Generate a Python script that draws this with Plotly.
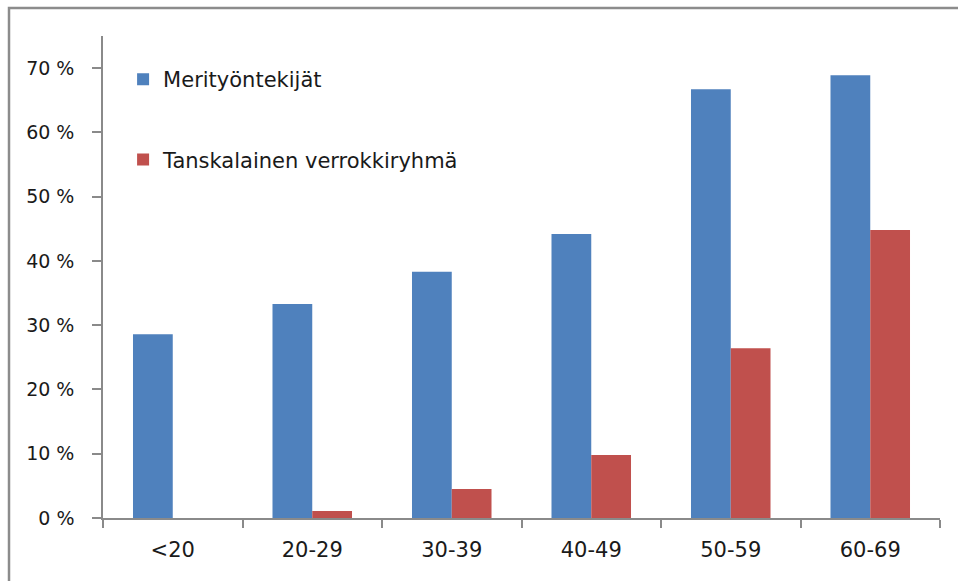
import plotly.graph_objects as go

categories = ["<20", "20-29", "30-39", "40-49", "50-59", "60-69"]
meri = [0.286, 0.333, 0.383, 0.442, 0.667, 0.689]
tansk = [None, 0.011, 0.045, 0.098, 0.264, 0.448]
series_names = ["Merityöntekijät", "Tanskalainen verrokkiryhmä"]
ytick_vals = [0, 0.1, 0.2, 0.3, 0.4, 0.5, 0.6, 0.7]
ytick_text = ["0 %", "10 %", "20 %", "30 %", "40 %", "50 %", "60 %", "70 %"]

FONT = "DejaVu Sans"
fig = go.Figure()
fig.add_trace(go.Bar(x=categories, y=meri, name=series_names[0], legendgroup="a",
                     marker=dict(color="#4F81BD", line=dict(width=0))))
fig.add_trace(go.Bar(x=categories, y=tansk, name=series_names[1], legendgroup="b",
                     marker=dict(color="#C0504D", line=dict(width=0))))

fig.update_layout(
    width=958, height=581,
    margin=dict(l=103, r=18, t=36, b=63),
    paper_bgcolor="white", plot_bgcolor="white",
    barmode="group", bargap=0.43, bargroupgap=0,
    font=dict(family=FONT, size=19, color="#1a1a1a"),
    legend=dict(x=0.024, y=0.952, xanchor="left", yanchor="top",
                bgcolor="rgba(0,0,0,0)", tracegroupgap=50,
                itemwidth=30, font=dict(family=FONT, size=21, color="#1a1a1a")),
    xaxis=dict(type="category", showline=True, linecolor="#8a8a8a", linewidth=1.5,
               ticks="outside", tickson="boundaries", ticklen=8, tickcolor="#8a8a8a",
               tickwidth=1.5, showgrid=False, ticklabelstandoff=12, zeroline=False,
               tickfont=dict(size=21)),
    yaxis=dict(range=[0, 0.75], tickvals=ytick_vals, ticktext=ytick_text,
               showline=True, linecolor="#8a8a8a", linewidth=1.5, ticks="outside",
               ticklen=9, tickcolor="#8a8a8a", tickwidth=1.5, showgrid=False,
               zeroline=False, ticklabelstandoff=14, tickfont=dict(size=19)),
    shapes=[dict(type="rect", xref="paper", yref="paper",
                 x0=-0.1123, x1=1.2, y0=1.058, y1=-0.3,
                 line=dict(color="#8c8c8c", width=2.5), layer="below")],
)
fig.write_html("out.html")
